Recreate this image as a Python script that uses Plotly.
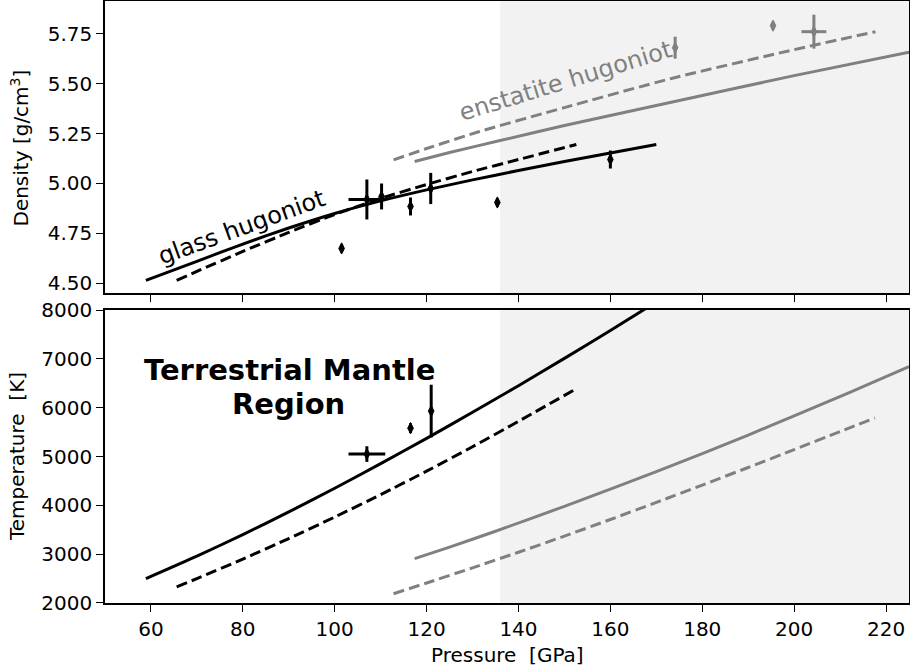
import plotly.graph_objects as go

# ---- Hugoniot model curves: density (top panel) ----
glass_p = [58.9, 70, 80, 90, 100, 110, 120, 130, 140, 150, 160, 170]
glass_rho = [4.515, 4.61, 4.697, 4.777, 4.85, 4.913, 4.968, 5.018, 5.065, 5.11, 5.153, 5.195]
glass2_p = [65.6, 70, 80, 90, 100, 110, 120, 130, 140, 152.6]
glass2_rho = [4.515, 4.56, 4.66, 4.755, 4.845, 4.925, 4.995, 5.06, 5.12, 5.195]
enst_p = [117.4, 125, 136, 150, 175, 200, 225]
enst_rho = [5.11, 5.155, 5.215, 5.29, 5.415, 5.54, 5.657]
enst2_p = [112.8, 120, 131.5, 150, 173.5, 200, 217.7]
enst2_rho = [5.118, 5.175, 5.26, 5.38, 5.527, 5.67, 5.76]

# ---- Hugoniot model curves: temperature (bottom panel) ----
glass_t_p = [58.9, 70, 80, 90, 100, 110, 120, 130, 140, 150, 160, 170]
glass_t = [2500, 2960, 3400, 3865, 4350, 4855, 5370, 5905, 6450, 7010, 7580, 8165]
glass2_t_p = [65.6, 70, 80, 90, 100, 110, 120, 130, 140, 152.6]
glass2_t = [2330, 2500, 2900, 3320, 3760, 4220, 4700, 5200, 5720, 6390]
enst_t_p = [117.4, 125, 135, 150, 160, 170, 180, 190, 200, 212, 225]
enst_t = [2910, 3145, 3470, 3980, 4330, 4690, 5060, 5440, 5830, 6310, 6840]
enst2_t_p = [112.8, 120, 130, 140, 150, 160, 170, 180, 190, 200, 210, 217.6]
enst2_t = [2190, 2410, 2720, 3040, 3370, 3710, 4060, 4415, 4775, 5140, 5510, 5790]

# ---- Shock measurements ----
glass_pts_p = [101.5, 107.0, 110.2, 116.5, 120.9, 135.4, 160.0]
glass_pts_perr = [0, 4.0, 0, 0, 0, 0, 0]
glass_pts_rho = [4.675, 4.92, 4.935, 4.885, 4.975, 4.905, 5.12]
glass_pts_rhoerr = [0.02, 0.10, 0.065, 0.045, 0.078, 0.02, 0.045]

enst_pts_p = [174.1, 195.4, 204.3]
enst_pts_perr = [0, 0, 2.7]
enst_pts_rho = [5.68, 5.79, 5.76]
enst_pts_rhoerr = [0.055, 0.02, 0.085]

temp_pts_p = [107.0, 116.5, 121.0]
temp_pts_perr = [4.0, 0, 0]
temp_pts_t = [5050, 5580, 5930]
temp_pts_terr = [160, 100, 540]

# ---- Axes ----
x_range = [50, 225]
x_ticks = [60, 80, 100, 120, 140, 160, 180, 200, 220]
rho_ticks = [4.50, 4.75, 5.00, 5.25, 5.50, 5.75]
t_ticks = [2000, 3000, 4000, 5000, 6000, 7000, 8000]
cmb_pressure = 136

BLACK = "#000000"
GRAY = "#808080"
SHADE = "#f2f2f2"
FONT = "DejaVu Sans"
LW = 3
DASH = "11px,5px"

fig = go.Figure()


def curve(x, y, color, dash, xa, ya):
    fig.add_trace(go.Scatter(
        x=x, y=y, mode="lines", xaxis=xa, yaxis=ya,
        line=dict(color=color, width=LW, dash=dash, shape="spline", smoothing=0.6),
        showlegend=False, hoverinfo="skip"))


def points(x, xerr, y, yerr, color, xa, ya):
    fig.add_trace(go.Scatter(
        x=x, y=y, mode="markers", xaxis=xa, yaxis=ya,
        marker=dict(symbol="diamond-tall", size=8, color=color,
                    line=dict(width=1, color=color)),
        error_x=dict(type="data", array=xerr, visible=True, width=0,
                     thickness=3, color=color),
        error_y=dict(type="data", array=yerr, visible=True, width=0,
                     thickness=3, color=color),
        showlegend=False))


# top panel: density
curve(glass_p, glass_rho, BLACK, "solid", "x", "y")
curve(glass2_p, glass2_rho, BLACK, DASH, "x", "y")
curve(enst_p, enst_rho, GRAY, "solid", "x", "y")
curve(enst2_p, enst2_rho, GRAY, DASH, "x", "y")
points(glass_pts_p, glass_pts_perr, glass_pts_rho, glass_pts_rhoerr, BLACK, "x", "y")
points(enst_pts_p, enst_pts_perr, enst_pts_rho, enst_pts_rhoerr, GRAY, "x", "y")

# bottom panel: temperature
curve(glass_t_p, glass_t, BLACK, "solid", "x2", "y2")
curve(glass2_t_p, glass2_t, BLACK, DASH, "x2", "y2")
curve(enst_t_p, enst_t, GRAY, "solid", "x2", "y2")
curve(enst2_t_p, enst2_t, GRAY, DASH, "x2", "y2")
points(temp_pts_p, temp_pts_perr, temp_pts_t, temp_pts_terr, BLACK, "x2", "y2")

# shaded region beyond the core-mantle boundary pressure
for xr, yr, y0, y1 in [("x", "y", 4.3, 6.0), ("x2", "y2", 1000, 9000)]:
    fig.add_shape(type="rect", xref=xr, yref=yr, x0=cmb_pressure, x1=x_range[1],
                  y0=y0, y1=y1, fillcolor=SHADE, line_width=0, layer="below")

axis_common = dict(
    showline=True, linecolor=BLACK, linewidth=1.5, mirror=True,
    ticks="outside", ticklen=7, tickwidth=1.3, tickcolor=BLACK,
    showgrid=False, zeroline=False, automargin=False,
    tickfont=dict(family=FONT, size=20, color=BLACK),
)

fig.update_layout(
    template="none",
    width=910, height=670,
    margin=dict(l=105, r=1, t=1, b=67, pad=0),
    paper_bgcolor="white", plot_bgcolor="white",
    font=dict(family=FONT, color=BLACK),
    xaxis=dict(domain=[0, 1], range=x_range, tickvals=x_ticks,
               showticklabels=False, anchor="y", **axis_common),
    yaxis=dict(domain=[0.515, 1], range=[4.452, 5.9135], tickvals=rho_ticks,
               tickformat=".2f", anchor="x", **axis_common),
    xaxis2=dict(domain=[0, 1], range=x_range, tickvals=x_ticks,
                anchor="y2", **axis_common),
    yaxis2=dict(domain=[0, 0.4867], range=[2000, 8000], tickvals=t_ticks,
                anchor="x2", **axis_common),
)

annotations = [
    dict(text="glass hugoniot", x=79.9, y=4.78, xref="x", yref="y",
         textangle=-20, font=dict(size=24, color=BLACK, family=FONT)),
    dict(text="enstatite hugoniot", x=150.2, y=5.515, xref="x", yref="y",
         textangle=-17, font=dict(size=24, color=GRAY, family=FONT)),
    dict(text="<b>Terrestrial Mantle</b>", x=90.1, y=6764, xref="x2", yref="y2",
         font=dict(size=29, color=BLACK, family=FONT)),
    dict(text="<b>Region</b>", x=89.9, y=6077, xref="x2", yref="y2",
         font=dict(size=29, color=BLACK, family=FONT)),
    dict(text="Density [g/cm<sup>3</sup>]", x=-0.1057, y=0.755, xref="paper", yref="paper",
         textangle=-90, font=dict(size=20, color=BLACK, family=FONT)),
    dict(text="Temperature  [K]", x=-0.1095, y=0.244, xref="paper", yref="paper",
         textangle=-90, font=dict(size=20, color=BLACK, family=FONT)),
    dict(text="Pressure  [GPa]", x=0.5, y=-0.0864, xref="paper", yref="paper",
         font=dict(size=20, color=BLACK, family=FONT)),
]
for a in annotations:
    a.update(showarrow=False, xanchor="center", yanchor="middle")
fig.update_layout(annotations=annotations)

fig.write_html("out.html")
